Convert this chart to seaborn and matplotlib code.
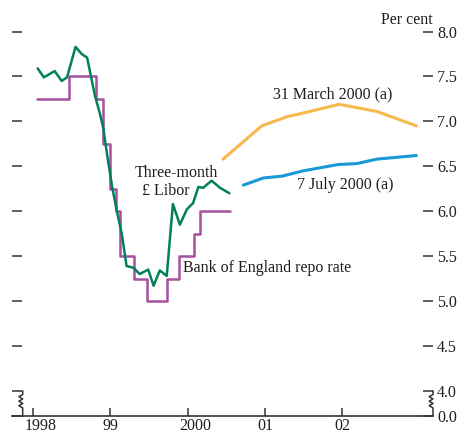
import numpy as np
import seaborn as sns
from matplotlib import pyplot as plt
from matplotlib import transforms as mtrans

# Three-month sterling Libor (decimal year, per cent)
libor_t = [1998.06, 1998.14, 1998.28, 1998.37, 1998.44, 1998.55, 1998.63, 1998.70,
           1998.80, 1998.87, 1998.91, 1998.96, 1999.02, 1999.08, 1999.15, 1999.21,
           1999.30, 1999.38, 1999.49, 1999.56, 1999.64, 1999.73, 1999.81, 1999.90,
           1999.99, 2000.07, 2000.14, 2000.20, 2000.31, 2000.42, 2000.54]
libor_v = [7.59, 7.49, 7.56, 7.45, 7.49, 7.83, 7.75, 7.71,
           7.29, 7.07, 6.92, 6.62, 6.29, 6.02, 5.74, 5.39,
           5.37, 5.30, 5.35, 5.17, 5.34, 5.28, 6.08, 5.85,
           6.02, 6.09, 6.27, 6.26, 6.34, 6.26, 6.20]

# Bank of England repo rate (step changes)
repo_t = [1998.05, 1998.47, 1998.815, 1998.90, 1998.99, 1999.07, 1999.13,
          1999.31, 1999.48, 1999.73, 1999.89, 2000.08, 2000.16, 2000.55]
repo_v = [7.25, 7.50, 7.25, 6.75, 6.25, 6.00, 5.50,
          5.25, 5.00, 5.25, 5.50, 5.75, 6.00, 6.00]

# forward curves
march_t = [2000.46, 2000.96, 2001.28, 2001.58, 2001.96, 2002.45, 2002.96]
march_v = [6.58, 6.95, 7.05, 7.11, 7.19, 7.11, 6.95]
july_t = [2000.72, 2000.98, 2001.22, 2001.50, 2001.95, 2002.19, 2002.45, 2002.96]
july_v = [6.29, 6.37, 6.39, 6.45, 6.52, 6.53, 6.58, 6.62]

year_ticks = [1998, 1999, 2000, 2001, 2002]
year_labels = ['1998', '99', '2000', '01', '02']
pct_ticks = [4.0, 4.5, 5.0, 5.5, 6.0, 6.5, 7.0, 7.5, 8.0]

green = '#00815c'
purple = '#a8509f'
orange = '#f6b94c'
blue = '#189ad6'
ink = '#1e1e1e'

sns.set_theme(style='ticks')
plt.rcParams['font.family'] = ['Liberation Serif', 'DejaVu Serif']
fs = 11.5

fig = plt.figure(figsize=(4.64, 4.37), dpi=100)
ax = fig.add_axes([12 / 464, 21 / 437, 421 / 464, 406 / 437])

ymin = 3.72
ax.set_xlim(1997.728, 2003.175)
ax.set_ylim(ymin, 8.24)

sns.lineplot(x=repo_t, y=repo_v, ax=ax, color=purple, lw=1.8, drawstyle='steps-post')
sns.lineplot(x=libor_t, y=libor_v, ax=ax, color=green, lw=1.8)
sns.lineplot(x=march_t, y=march_v, ax=ax, color=orange, lw=2.2)
sns.lineplot(x=july_t, y=july_v, ax=ax, color=blue, lw=2.2)

for s in ['top', 'left', 'right']:
    ax.spines[s].set_visible(False)
ax.spines['bottom'].set_linewidth(1.2)
ax.spines['bottom'].set_color('#333333')

ax.set_xticks(year_ticks)
ax.set_xticklabels(year_labels)
ax.tick_params(axis='x', direction='in', length=6, width=1.1, color='#333333',
               pad=1.5, labelsize=fs, labelcolor=ink)
# four-digit labels sit a little right of their ticks
for lab in ax.get_xticklabels():
    if len(lab.get_text()) == 4:
        lab.set_transform(lab.get_transform() + mtrans.ScaledTranslation(8 / 100, 0, fig.dpi_scale_trans))

ax.yaxis.set_ticks_position('both')
ax.set_yticks(pct_ticks + [ymin])
ax.set_yticklabels(['%.1f' % v for v in pct_ticks] + ['0.0'])
ax.tick_params(axis='y', direction='in', length=7.5, width=1.1, color='#333333',
               left=True, right=True, labelleft=False, labelright=True,
               pad=3, labelsize=fs, labelcolor=ink)

# broken-axis zigzags
tr = mtrans.blended_transform_factory(ax.transAxes, ax.transData)
amp = 0.009
for x0 in [(22.7 - 12) / 421, 1.0]:
    zx = [x0, x0, x0 - amp, x0, x0 - amp, x0, x0 - amp, x0, x0]
    zy = [4.0, 3.96, 3.935, 3.91, 3.885, 3.86, 3.835, 3.81, ymin]
    ax.plot(zx, zy, transform=tr, color='#333333', lw=1.1, clip_on=False)

ax.text(2003.175, 8.13, 'Per cent', ha='right', va='center', fontsize=fs, color=ink)
ax.text(2001.88, 7.30, '31 March 2000 (a)', ha='center', va='center', fontsize=fs, color=ink)
ax.text(2002.04, 6.29, '7 July 2000 (a)', ha='center', va='center', fontsize=fs, color=ink)
ax.text(1999.86, 6.43, 'Three-month', ha='center', va='center', fontsize=fs, color=ink)
ax.text(1999.72, 6.23, '£ Libor', ha='center', va='center', fontsize=fs, color=ink)
ax.text(1999.94, 5.37, 'Bank of England repo rate', ha='left', va='center', fontsize=fs, color=ink)

fig.savefig('out.png', dpi=100)
